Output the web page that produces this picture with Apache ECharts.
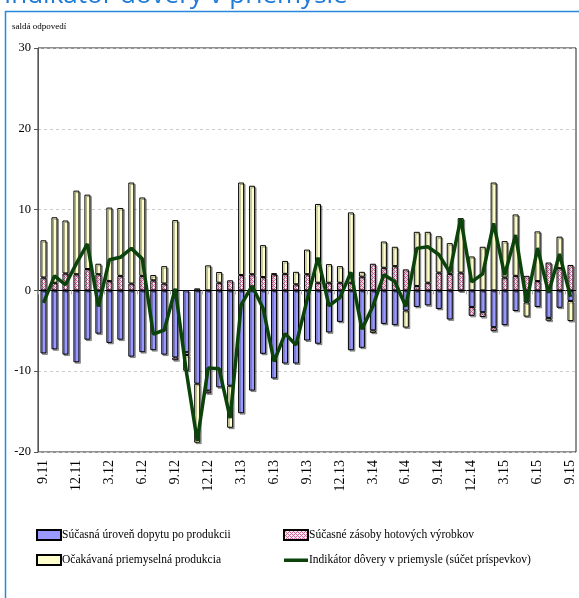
<!DOCTYPE html>
<html><head><meta charset="utf-8">
<script src="https://cdn.jsdelivr.net/npm/echarts@6/dist/echarts.min.js"></script>
<style>html,body{margin:0;padding:0;background:#fff}#c{width:579px;height:598px}</style>
</head><body><div id="c"></div>
<script>
const months = ['9.11','10.11','11.11','12.11','1.12','2.12','3.12','4.12','5.12','6.12','7.12','8.12',
  '9.12','10.12','11.12','12.12','1.13','2.13','3.13','4.13','5.13','6.13','7.13','8.13',
  '9.13','10.13','11.13','12.13','1.14','2.14','3.14','4.14','5.14','6.14','7.14','8.14',
  '9.14','10.14','11.14','12.14','1.15','2.15','3.15','4.15','5.15','6.15','7.15','8.15','9.15'];
const demand = [-7.8,-7.3,-7.95,-8.9,-6.1,-5.35,-6.5,-6.1,-8.2,-7.65,-7.4,-7.95,
  -8.3,-7.65,-11.55,-12.4,-12.0,-11.8,-15.2,-12.4,-7.85,-10.9,-9.05,-9.05,
  -6.2,-6.6,-5.2,-3.9,-7.4,-7.1,-4.95,-4.15,-4.3,-2.5,-2.05,-1.85,
  -2.3,-3.6,-0.1,-2.05,-2.7,-4.55,-4.3,-2.55,-1.5,-2.05,-3.4,-2.15,-1.3];
const stocks = [1.6,0.95,2.1,2.0,2.65,2.0,1.15,1.8,0.85,1.8,1.25,0.85,
  -0.35,-0.35,0.25,-0.35,0.95,1.25,1.9,2.0,1.65,2.0,2.05,0.75,
  2.0,0.95,0.95,0.95,0.95,1.7,3.3,2.8,3.0,2.6,0.55,0.95,
  2.2,2.05,2.2,-1.1,-0.6,-0.5,1.6,1.8,1.8,1.15,3.45,2.75,3.15];
const expected = [4.6,8.1,6.55,10.35,9.2,1.3,9.1,8.4,12.5,9.7,0.65,2.15,
  8.7,-1.95,-7.3,3.1,1.33,-5.2,11.45,10.95,3.95,0.1,1.6,1.55,
  3.05,9.75,2.3,2.05,8.7,0.6,-0.3,3.25,2.4,-2.1,6.7,6.3,
  4.5,3.8,6.75,4.2,5.4,13.35,4.5,7.6,-1.75,6.15,-0.35,3.9,-2.5];
const confidence = [-1.55,1.8,0.7,3.35,5.75,-2.0,3.8,4.1,5.2,3.9,-5.4,-4.9,
  0.2,-9.95,-18.6,-9.6,-9.7,-15.8,-1.8,0.55,-2.2,-8.8,-5.35,-6.75,
  -1.2,4.05,-1.9,-0.9,2.25,-4.8,-1.95,1.95,1.1,-2.0,5.2,5.4,
  4.45,2.25,8.9,1.05,2.05,8.3,1.9,6.85,-1.45,5.25,-0.3,4.5,-0.8];
const seriesNames = ['Súčasná úroveň dopytu po produkcii','Súčasné zásoby hotových výrobkov',
  'Očakávaná priemyselná produkcia','Indikátor dôvery v priemysle (súčet príspevkov)'];

const pc = document.createElement('canvas'); pc.width = 4; pc.height = 4;
const g = pc.getContext('2d');
g.fillStyle = '#fbe6f0'; g.fillRect(0,0,4,4);
g.fillStyle = '#d06a9c';
[[0,0],[1,1],[2,2],[3,3],[2,0],[0,2]].forEach(p => g.fillRect(p[0],p[1],1,1));

const serif = "'Liberation Serif','Times New Roman',serif";
const chart = echarts.init(document.getElementById('c'));
const barBase = {type:'bar', stack:'s', barWidth:6, xAxisIndex:0, yAxisIndex:0,
  itemStyle:{borderColor:'#000', borderWidth:1, shadowColor:'rgba(0,0,0,0.35)', shadowOffsetX:1.5, shadowOffsetY:1.5, shadowBlur:0}};
const lineIcon = 'path://M0,0M0,3.5h24v3.5h-24zM24,10';
const legText = {fontFamily:serif, fontSize:11.5, color:'#000', padding:[0,0,0,-4]};
chart.setOption({
  animation:false,
  grid:{left:38, right:3, top:48, bottom:146, show:true, borderColor:'#222', borderWidth:1},
  graphic:[
    {type:'polyline', shape:{points:[[5.5,598],[5.5,11.5],[579,11.5]]}, style:{stroke:'#2b87d9', lineWidth:1.5, fill:null}},
    {type:'text', style:{x:4, y:9, text:'Indikátor dôvery v priemysle', fill:'#1f7ad6', font:"26px 'Open Sans', sans-serif", verticalAlign:'bottom'}},
    {type:'text', style:{x:12, y:27, text:'saldá odpovedí', fill:'#000', font:"9px "+serif, verticalAlign:'middle'}}
  ],
  legend:[
    {data:[{name:seriesNames[0], icon:'rect'}, {name:seriesNames[2], icon:'rect'}], left:36, top:529, padding:0, orient:'vertical',
      itemWidth:24, itemHeight:10, itemGap:13, textStyle:legText},
    {data:[{name:seriesNames[1], icon:'rect'}, {name:seriesNames[3], icon:lineIcon}], left:283, top:529, padding:0, orient:'vertical',
      itemWidth:24, itemHeight:10, itemGap:13, textStyle:legText}
  ],
  xAxis:[
    {type:'category', data:months, position:'bottom', axisLine:{onZero:false, show:false}, axisTick:{show:false},
      axisLabel:{interval:2, rotate:90, margin:8, fontFamily:serif, fontSize:14, color:'#000'}},
    {type:'category', data:months, position:'bottom', axisLine:{onZero:true, lineStyle:{color:'#000', width:1}},
      axisTick:{show:true, interval:2, length:4, lineStyle:{color:'#aaa'}}, axisLabel:{show:false}}
  ],
  yAxis:{type:'value', min:-20, max:30, interval:10,
    axisLine:{show:true, lineStyle:{color:'#555'}}, axisTick:{show:true, length:4, lineStyle:{color:'#555'}},
    axisLabel:{margin:7, fontFamily:serif, fontSize:12.5, color:'#000'},
    splitLine:{show:true, lineStyle:{color:'#ccc', type:[3,3]}}},
  series:[
    Object.assign({}, barBase, {name:seriesNames[0], data:demand, itemStyle:Object.assign({}, barBase.itemStyle, {color:'#9999ff'})}),
    Object.assign({}, barBase, {name:seriesNames[1], data:stocks, itemStyle:Object.assign({}, barBase.itemStyle, {color:{image:pc, repeat:'repeat'}})}),
    Object.assign({}, barBase, {name:seriesNames[2], data:expected, itemStyle:Object.assign({}, barBase.itemStyle, {color:'#ffffcc'})}),
    {type:'line', name:seriesNames[3], data:confidence, symbol:'none', z:5, xAxisIndex:0, yAxisIndex:0,
      lineStyle:{color:'#0b430b', width:3.5}, itemStyle:{color:'#0b430b', borderWidth:0}}
  ]
});
</script></body></html>
